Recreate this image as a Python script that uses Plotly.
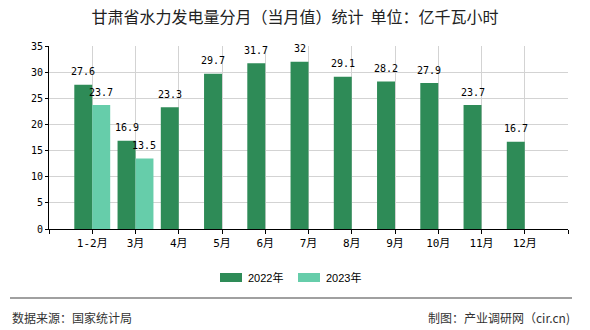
import plotly.graph_objects as go

# Monthly hydropower generation in Gansu (100 million kWh)
months = ["1-2月", "3月", "4月", "5月", "6月", "7月", "8月", "9月", "10月", "11月", "12月"]
gen_2022 = [27.6, 16.9, 23.3, 29.7, 31.7, 32, 29.1, 28.2, 27.9, 23.7, 16.7]
gen_2023 = [23.7, 13.5, None, None, None, None, None, None, None, None, None]
series_names = ["2022年", "2023年"]
colors = ["#2e8b57", "#66cdaa"]

title_text = "甘肃省水力发电量分月（当月值）统计  单位：亿千瓦小时"
source_text = "数据来源：国家统计局"
credit_text = "制图：产业调研网（cir.cn)"

W, H = 590, 330
L, R, T, B = 49, 568, 46, 229  # plot area in pixels


def px(x):
    return (x - L) / (R - L)


def py(y):
    return (B - y) / (B - T)


bar_w = 0.415
xs = list(range(len(months)))

fig = go.Figure()
for vals, name, col, off in [(gen_2022, series_names[0], colors[0], -bar_w),
                             (gen_2023, series_names[1], colors[1], 0.0)]:
    fig.add_trace(go.Bar(x=xs, y=vals, name=name, marker=dict(color=col, line=dict(width=0)),
                         width=bar_w, offset=off, showlegend=False))
    for i, v in zip(xs, vals):
        if v is None:
            continue
        fig.add_annotation(x=i + off + bar_w / 2, y=v, xref="x", yref="y",
                           text=f"{v:g}", showarrow=False, yanchor="middle", yshift=13,
                           font=dict(family="DejaVu Sans Mono", size=10, color="#000"))

# legend drawn as swatches + labels
legend_items = [(220, series_names[0], colors[0]), (298, series_names[1], colors[1])]
for x0, name, col in legend_items:
    fig.add_shape(type="rect", xref="paper", yref="paper",
                  x0=px(x0), x1=px(x0 + 22), y0=py(282), y1=py(273),
                  fillcolor=col, line=dict(width=0))
    fig.add_annotation(xref="paper", yref="paper", x=px(x0 + 26), y=py(277.5),
                       xanchor="left", yanchor="middle", showarrow=False, text=name,
                       font=dict(family="Liberation Sans, Noto Sans CJK SC", size=11, color="#000"))

# footer
fig.add_shape(type="line", xref="paper", yref="paper", x0=px(10), x1=px(572),
              y0=py(298), y1=py(298), line=dict(color="#808080", width=1.5))
fig.add_annotation(xref="paper", yref="paper", x=px(10), y=py(317), xanchor="left",
                   yanchor="middle", showarrow=False, text=source_text,
                   font=dict(family="Noto Sans CJK SC", size=12, color="#333"))
fig.add_annotation(xref="paper", yref="paper", x=px(572), y=py(317), xanchor="right",
                   yanchor="middle", showarrow=False, text=credit_text,
                   font=dict(family="Noto Sans CJK SC", size=12, color="#333"))

fig.update_layout(
    width=W, height=H,
    margin=dict(l=L, r=W - R, t=T, b=H - B),
    paper_bgcolor="white", plot_bgcolor="white",
    barmode="overlay",
    title=dict(text=title_text, x=0.5, xref="container", xanchor="center",
               y=1 - 17 / H, yref="container", yanchor="middle",
               font=dict(family="Noto Sans CJK SC", size=16, color="#222")),
    xaxis=dict(range=[-1, len(months)], tickmode="array",
               tickvals=[-1] + xs + [len(months)],
               ticktext=[""] + months + [""],
               showgrid=True, gridcolor="#d3d3d3", gridwidth=1,
               showline=True, linecolor="#000", linewidth=1,
               ticks="outside", ticklen=4, tickcolor="#000",
               tickfont=dict(family="DejaVu Sans Mono, Noto Sans CJK SC", size=11, color="#000"),
               zeroline=False, fixedrange=True),
    yaxis=dict(range=[0, 35], dtick=5, tick0=0,
               showgrid=True, gridcolor="#d3d3d3", gridwidth=1,
               showline=True, linecolor="#000", linewidth=1,
               ticks="outside", ticklen=3, tickcolor="#000",
               tickfont=dict(family="DejaVu Sans Mono", size=10, color="#000"),
               zeroline=False, fixedrange=True),
)

fig.write_html("out.html")
